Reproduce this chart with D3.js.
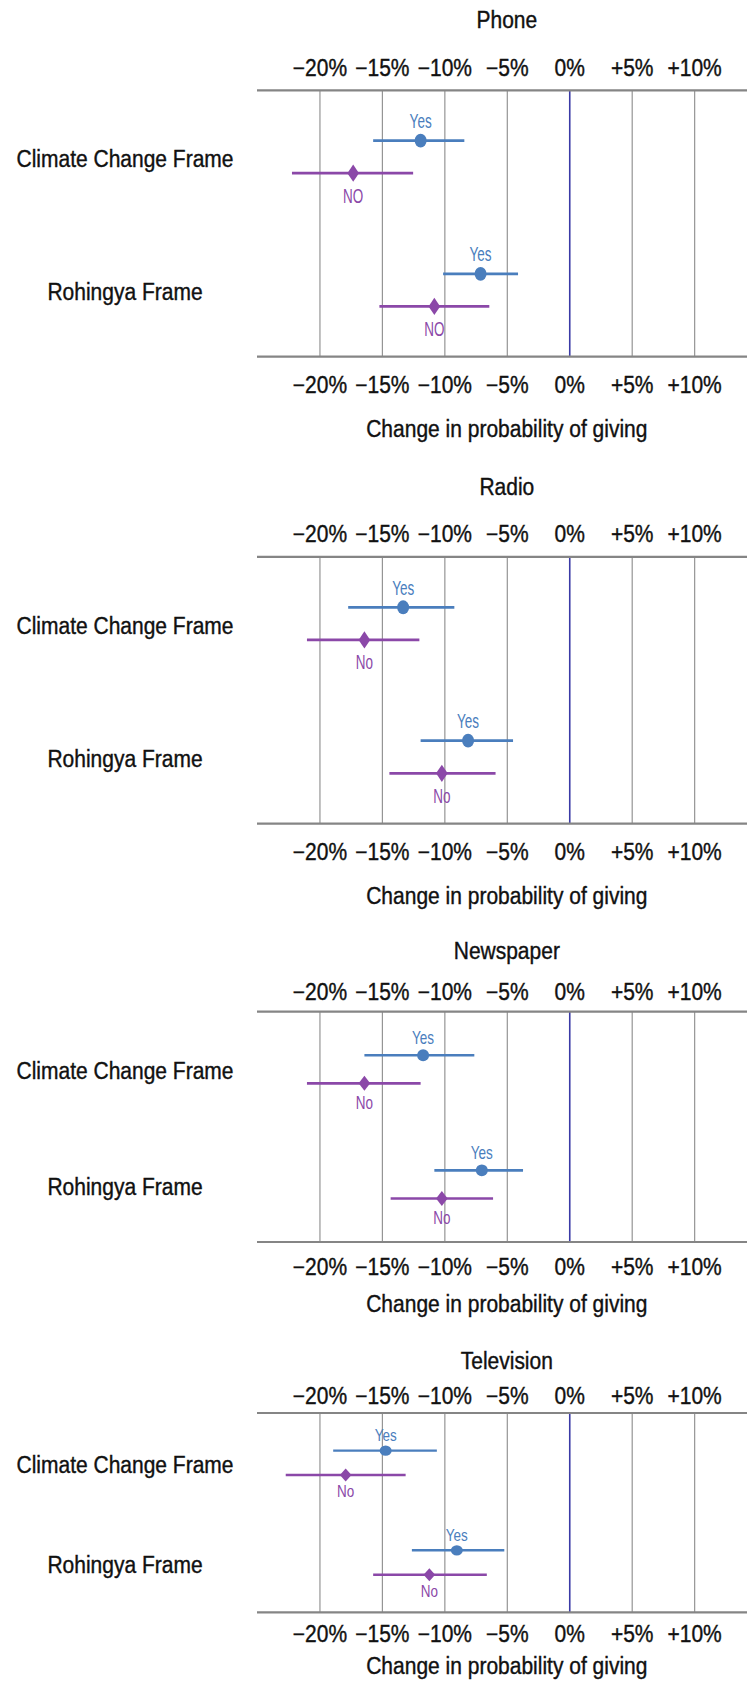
<!DOCTYPE html>
<html>
<head>
<meta charset="utf-8">
<script src="https://cdn.jsdelivr.net/npm/d3@7"></script>
<style>
  body { margin: 0; background: #fff; }
  svg { display: block; font-family: "Liberation Sans", Arial, Helvetica, sans-serif; }
  .lbl { fill: #111; stroke: #111; stroke-width: 0.35px; font-size: 21px; }
</style>
</head>
<body>
<svg id="chart"></svg>
<script>
const width = 747;
const height = 1682;

// Data
const panels = ["Phone", "Radio", "Newspaper", "Television"];
const frames = ["Climate Change Frame", "Rohingya Frame"];
const noLabels = ["NO", "No", "No", "No"];
const tickValues = [-20, -15, -10, -5, 0, 5, 10];

// per panel: [climate, rohingya], percentage points
const yesEst = [[-11.9, -7.1], [-13.3, -8.1], [-11.7, -7.0], [-14.7, -9.0]];
const yesLo  = [[-15.7, -10.1], [-17.7, -11.9], [-16.4, -10.8], [-18.9, -12.6]];
const yesHi  = [[-8.4, -4.1], [-9.2, -4.5], [-7.6, -3.7], [-10.6, -5.2]];
const noEst  = [[-17.3, -10.8], [-16.4, -10.2], [-16.4, -10.2], [-17.9, -11.2]];
const noLo   = [[-22.2, -15.2], [-21.0, -14.4], [-21.0, -14.3], [-22.7, -15.7]];
const noHi   = [[-12.5, -6.4], [-12.0, -5.9], [-11.9, -6.1], [-13.1, -6.6]];

// Layout of each panel (plot area top and height)
const panelTop = [90.3, 556.9, 1011.7, 1413];
const panelHeight = [266.4, 266.8, 230.3, 199.3];

const yesColor = "#4a7ebd";
const noColor = "#8b48a8";
const textStretch = 1.1;

const svg = d3.select("#chart").attr("width", width).attr("height", height);

const x = d3.scaleLinear().domain([-25, 15]).range([257, 756.6]);
const fmt = v => v === 0 ? "0%" : (v < 0 ? "\u2212" + Math.abs(v) + "%" : "+" + v + "%");

function label(g, tx, ty, txt) {
  return g.append("text")
    .attr("class", "lbl")
    .attr("transform", `translate(${tx},${ty}) scale(1,${textStretch})`)
    .attr("dy", "0.35em")
    .attr("text-anchor", "middle")
    .text(txt);
}

panels.forEach((name, p) => {
  const top = panelTop[p];
  const h = panelHeight[p];
  const k = h / 266.5;
  const g = svg.append("g").attr("transform", `translate(0,${top})`);

  const y = d3.scalePoint().domain(frames).range([0, h]).padding(0.5);
  const dy = d3.scalePoint().domain(["Yes", "No"]).range([-16.3 * k, 16.3 * k]);

  // gridlines
  g.append("g")
    .call(d3.axisBottom(x).tickValues(tickValues).tickSize(h).tickFormat(""))
    .call(a => a.select(".domain").remove())
    .call(a => a.selectAll(".tick line")
      .attr("stroke", d => d === 0 ? "#3a3aa6" : "#959595")
      .attr("stroke-width", d => d === 0 ? 1.6 : 1.2));

  // panel border lines
  [0, h].forEach(yy => {
    g.append("line")
      .attr("x1", x.range()[0]).attr("x2", width)
      .attr("y1", yy).attr("y2", yy)
      .attr("stroke", "#858585").attr("stroke-width", 2.2);
  });

  // tick labels, top and bottom
  const labelAxis = (yy) => g.append("g")
    .attr("transform", `translate(0,${yy})`)
    .call(d3.axisTop(x).tickValues(tickValues).tickSize(0).tickFormat(fmt))
    .call(a => a.select(".domain").remove())
    .call(a => a.selectAll("text")
      .attr("class", "lbl")
      .attr("y", 0).attr("dy", "0.35em")
      .attr("transform", `scale(1,${textStretch})`)
      .attr("font-size", null).attr("font-family", null).attr("fill", null));
  labelAxis(-22.5 * k);
  labelAxis(h + 28.5 * k);

  // panel title and axis title
  const cx = (x.range()[0] + x.range()[1]) / 2;
  label(g, cx, -70 * k, name);
  label(g, cx, h + 72 * k, "Change in probability of giving");

  // row labels
  frames.forEach(f => label(g, 125, y(f) + 2, f));

  const rows = frames.map((f, i) => ({
    frame: f,
    yes: { est: yesEst[p][i], lo: yesLo[p][i], hi: yesHi[p][i] },
    no: { est: noEst[p][i], lo: noLo[p][i], hi: noHi[p][i] }
  }));

  const sw = 1.5 + 1.3 * k;
  const stretch = 1.55 * k;

  rows.forEach(r => {
    const yy = y(r.frame) + dy("Yes");
    const yn = y(r.frame) + dy("No");

    // Yes: interval + circle
    g.append("line")
      .attr("x1", x(r.yes.lo)).attr("x2", x(r.yes.hi))
      .attr("y1", yy).attr("y2", yy)
      .attr("stroke", yesColor).attr("stroke-width", sw);
    g.append("ellipse")
      .attr("cx", x(r.yes.est)).attr("cy", yy)
      .attr("rx", 6).attr("ry", 6 * 1.15 * k)
      .attr("fill", yesColor);
    g.append("text")
      .attr("transform", `translate(${x(r.yes.est)},${yy - 20 * k}) scale(1,${stretch})`)
      .attr("dy", "0.35em").attr("text-anchor", "middle")
      .attr("font-size", 13.5).attr("fill", yesColor).text("Yes");

    // No: interval + diamond
    g.append("line")
      .attr("x1", x(r.no.lo)).attr("x2", x(r.no.hi))
      .attr("y1", yn).attr("y2", yn)
      .attr("stroke", noColor).attr("stroke-width", sw);
    const hw = 5.8, hh = 5.6 * stretch;
    g.append("path")
      .attr("transform", `translate(${x(r.no.est)},${yn})`)
      .attr("d", `M0,${-hh}L${hw},0L0,${hh}L${-hw},0Z`)
      .attr("fill", noColor);
    g.append("text")
      .attr("transform", `translate(${x(r.no.est)},${yn + 22 * k}) scale(1,${stretch})`)
      .attr("dy", "0.35em").attr("text-anchor", "middle")
      .attr("font-size", 13.5).attr("fill", noColor).text(noLabels[p]);
  });
});
</script>
</body>
</html>
